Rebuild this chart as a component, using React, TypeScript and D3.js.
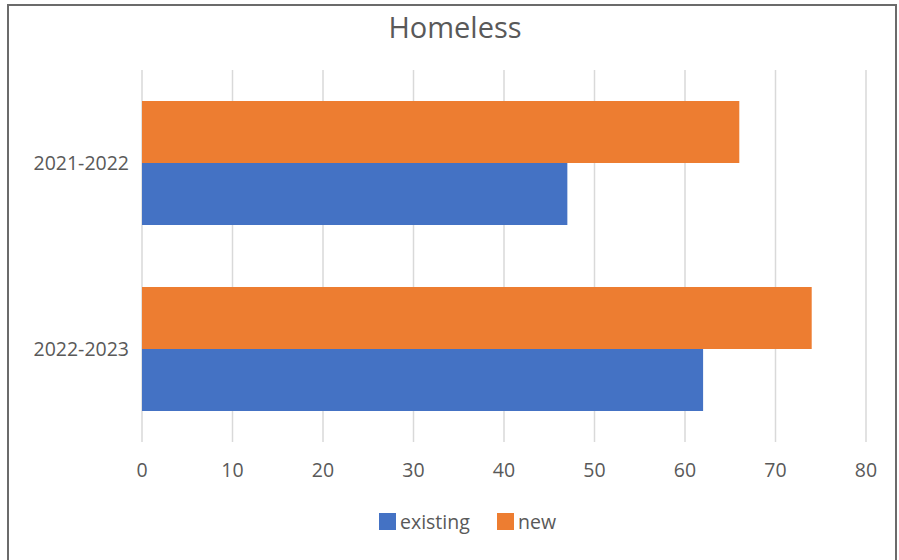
import React, { useEffect, useRef } from "react";
import * as d3 from "d3";

const categories = ["2021-2022", "2022-2023"];
const seriesNames = ["new", "existing"];
const existingValues = [47, 62];
const newValues = [66, 74];
const xTicks = [0, 10, 20, 30, 40, 50, 60, 70, 80];
const title = "Homeless";

const colors: Record<string, string> = { existing: "#4472C4", new: "#ED7D31" };

export default function App() {
  const ref = useRef<SVGSVGElement>(null);
  useEffect(() => {
    const svg = d3.select(ref.current);
    svg.selectAll("*").remove();
    const W = 899, H = 560;
    const font = "'Open Sans', sans-serif";
    const textColor = "#595959";

    svg.append("rect").attr("x", 8).attr("y", 5).attr("width", 888).attr("height", 560)
      .attr("fill", "white").attr("stroke", "#6b6b6b").attr("stroke-width", 2);

    svg.append("text").attr("x", 455).attr("y", 38).attr("text-anchor", "middle")
      .attr("font-family", font).attr("font-size", 29).attr("fill", textColor).text(title);

    const x = d3.scaleLinear().domain([0, 80]).range([142, 866]);
    const y = d3.scaleBand().domain(categories).range([70, 442]).paddingInner(1 / 3).paddingOuter(1 / 6);
    const sub = d3.scaleBand().domain(seriesNames).range([0, y.bandwidth()]);

    svg.append("g").selectAll("line").data(xTicks).join("line")
      .attr("x1", d => x(d)).attr("x2", d => x(d)).attr("y1", 70).attr("y2", 442)
      .attr("stroke", "#d9d9d9").attr("stroke-width", 1.5);

    const data = categories.map((c, i) => ({ c, existing: existingValues[i], new: newValues[i] }));
    data.forEach(d => {
      seriesNames.forEach(s => {
        svg.append("rect")
          .attr("x", x(0)).attr("y", (y(d.c) as number) + (sub(s) as number))
          .attr("width", x((d as any)[s]) - x(0)).attr("height", sub.bandwidth())
          .attr("fill", colors[s]);
      });
    });

    svg.append("g").selectAll("text").data(categories).join("text")
      .attr("x", 129).attr("y", d => (y(d) as number) + y.bandwidth() / 2)
      .attr("dy", "0.38em").attr("text-anchor", "end")
      .attr("font-family", font).attr("font-size", 19.5).attr("fill", textColor).text(d => d);

    svg.append("g").selectAll("text").data(xTicks).join("text")
      .attr("x", d => x(d)).attr("y", 477).attr("text-anchor", "middle")
      .attr("font-family", font).attr("font-size", 19.5).attr("fill", textColor).text(d => String(d));

    const legend = [
      { name: "existing", sx: 379, tx: 400 },
      { name: "new", sx: 497, tx: 518 },
    ];
    legend.forEach(l => {
      svg.append("rect").attr("x", l.sx).attr("y", 513).attr("width", 17).attr("height", 17).attr("fill", colors[l.name]);
      svg.append("text").attr("x", l.tx).attr("y", 529).attr("font-family", font)
        .attr("font-size", 19.5).attr("fill", textColor).text(l.name);
    });
    svg.attr("width", W).attr("height", H);
  }, []);
  return (
    <svg ref={ref} width={899} height={560} style={{ position: "absolute", left: 0, top: 0 }} />
  );
}
